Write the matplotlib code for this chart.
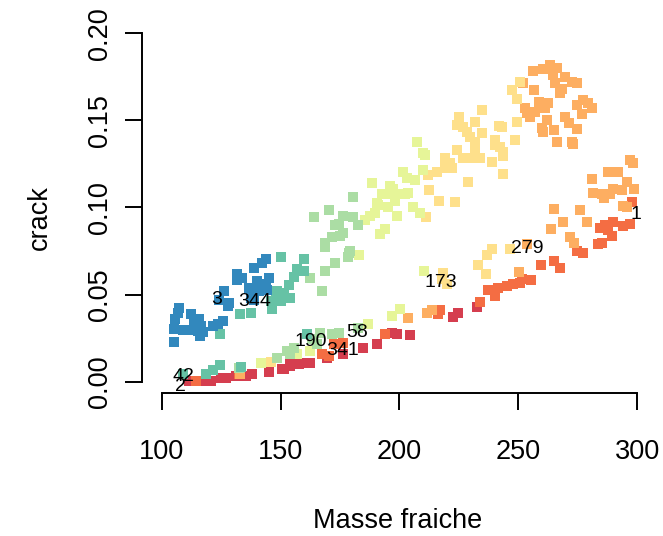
import matplotlib
matplotlib.use("Agg")
import matplotlib.pyplot as plt

plt.rcParams['font.family'] = ['Liberation Sans', 'DejaVu Sans']

# Spectral colours, one per class
colors = ["#3288BD", "#66C2A5", "#ABDDA4", "#E6F598",
          "#FEE08B", "#FDAE61", "#F46D43", "#D53E4F"]

masse_c1 = [144.1, 142.4, 138.7, 131.9, 134.0, 131.9, 145.0, 140.3, 143.7, 136.6,
            140.8, 144.5, 137.4, 126.1, 128.2, 127.7, 107.1, 106.7, 105.5, 105.0,
            112.2, 115.5, 113.4, 116.4, 125.6, 123.5, 121.8, 108.8, 112.2, 115.1,
            117.2, 116.0, 105.0, 139.0, 124.0]
crack_c1 = [0.0707, 0.0684, 0.0655, 0.0621, 0.0598, 0.0586, 0.0598, 0.0580, 0.0563, 0.0540,
            0.0523, 0.0529, 0.0483, 0.0523, 0.0454, 0.0437, 0.0425, 0.0397, 0.0362, 0.0305,
            0.0391, 0.0362, 0.0339, 0.0322, 0.0351, 0.0333, 0.0322, 0.0299, 0.0299, 0.0293,
            0.0287, 0.0264, 0.0230, 0.0470, 0.0470]

masse_c2 = [150.0, 159.7, 157.1, 159.7, 155.5, 153.4, 148.7, 151.3, 147.9, 150.0,
            146.6, 146.6, 154.2, 132.8, 137.4, 124.4, 145.8,
            133.2, 124.4, 121.4, 118.5, 108.8, 161.3]
crack_c2 = [0.0718, 0.0707, 0.0649, 0.0638, 0.0603, 0.0557, 0.0523, 0.0511, 0.0483, 0.0466,
            0.0437, 0.0420, 0.0483, 0.0391, 0.0397, 0.0276, 0.0466,
            0.0086, 0.0098, 0.0069, 0.0046, 0.0046, 0.0276]

masse_c3 = [180.3, 170.6, 163.9, 176.1, 174.4, 173.1, 176.5, 175.2, 171.8, 168.9,
            168.9, 180.7, 182.4, 179.4, 178.2, 173.1, 168.9, 162.6, 167.6, 179.0,
            152.9, 154.2, 155.5, 148.7, 166.8, 171.8, 174.4, 163.4, 165.5, 182.4, 132.4]
crack_c3 = [0.1063, 0.0983, 0.0943, 0.0954, 0.0908, 0.0897, 0.0856, 0.0839, 0.0828, 0.0799,
            0.0776, 0.0943, 0.0897, 0.0753, 0.0713, 0.0684, 0.0638, 0.0598, 0.0523, 0.0741,
            0.0178, 0.0161, 0.0195, 0.0138, 0.0282, 0.0276, 0.0282, 0.0247, 0.0218, 0.0310, 0.0080]

masse_c4 = [207.6, 210.1, 210.9, 201.7, 203.4, 206.7, 202.5, 203.8, 205.9, 208.8,
            210.1, 188.7, 196.2, 197.5, 192.9, 196.2, 198.3, 200.4, 190.8, 189.9,
            187.8, 185.7, 195.4, 199.2, 194.1, 192.0, 183.2, 191.2,
            210.5, 197.1, 200.4, 187.0, 157.1, 141.6, 162.6]
crack_c4 = [0.1374, 0.1310, 0.1299, 0.1201, 0.1172, 0.1155, 0.1080, 0.1086, 0.1000, 0.0966,
            0.1213, 0.1138, 0.1126, 0.1109, 0.1080, 0.1080, 0.1040, 0.1080, 0.1023, 0.0971,
            0.0954, 0.0931, 0.1000, 0.0954, 0.0879, 0.0845, 0.0730, 0.1017,
            0.0638, 0.0379, 0.0420, 0.0333, 0.0161, 0.0109, 0.0178]

masse_c5 = [225.2, 224.4, 226.9, 228.6, 229.8, 231.9, 234.9, 231.9, 234.9, 242.0,
            240.3, 240.3, 242.4, 243.7, 248.7, 249.6, 247.5, 249.6, 250.8, 224.4,
            226.9, 230.7, 234.0, 231.9, 239.1, 219.3, 219.3, 221.4, 222.3, 220.2,
            216.0, 212.2, 229.0, 243.7, 212.6, 216.8, 223.5, 211.3, 243.3, 243.7,
            239.1, 237.0, 246.6, 233.2, 236.6, 218.5, 218.1, 220.2, 145.8]
crack_c5 = [0.1517, 0.1471, 0.1460, 0.1431, 0.1402, 0.1374, 0.1557, 0.1489, 0.1425, 0.1466,
            0.1385, 0.1356, 0.1345, 0.1293, 0.1385, 0.1489, 0.1672, 0.1621, 0.1718, 0.1328,
            0.1287, 0.1282, 0.1287, 0.1328, 0.1259, 0.1282, 0.1253, 0.1253, 0.1224, 0.1224,
            0.1201, 0.1184, 0.1144, 0.1190, 0.1098, 0.1040, 0.1029, 0.0943, 0.1460, 0.1316,
            0.0759, 0.0730, 0.0764, 0.0667, 0.0621, 0.0626, 0.0592, 0.0563, 0.0115]

masse_c6 = [256.3, 260.5, 263.4, 266.4, 264.7, 269.7, 272.7, 274.8, 265.5, 268.5,
            267.6, 252.1, 256.7, 258.8, 262.6, 261.3, 252.9, 257.1, 255.0, 274.8,
            277.3, 279.4, 281.1, 276.9, 262.2, 269.7, 271.4, 260.1, 260.5, 265.1,
            274.8, 266.4, 272.7, 273.1, 253.8,
            297.1, 298.3, 287.8, 292.0, 281.1, 295.8, 298.7, 281.5, 285.3, 288.7,
            289.9, 293.7, 286.1, 294.1, 295.8, 265.1, 268.9, 263.9, 271.8, 273.5,
            276.1, 279.0, 253.8, 250.4, 203.8, 211.8, 213.9, 132.8]
crack_c6 = [0.1782, 0.1793, 0.1816, 0.1799, 0.1759, 0.1747, 0.1718, 0.1713, 0.1713, 0.1678,
            0.1655, 0.1713, 0.1672, 0.1603, 0.1598, 0.1569, 0.1569, 0.1546, 0.1517, 0.1586,
            0.1615, 0.1598, 0.1569, 0.1534, 0.1500, 0.1517, 0.1483, 0.1454, 0.1431, 0.1443,
            0.1448, 0.1374, 0.1374, 0.1362, 0.1540,
            0.1270, 0.1253, 0.1201, 0.1201, 0.1161, 0.1149, 0.1109, 0.1086, 0.1080, 0.1080,
            0.1109, 0.1098, 0.1052, 0.1011, 0.1000, 0.0989, 0.0914, 0.0874, 0.0828, 0.0799,
            0.0983, 0.0914, 0.0793, 0.0632, 0.0368, 0.0397, 0.0414, 0.0046]

masse_c7 = [284.5, 286.6, 287.8, 289.9, 289.5, 285.3, 283.6, 294.1, 297.1, 297.9,
            274.8, 277.3, 265.1, 267.6, 259.7, 255.5, 251.7, 250.8, 247.9, 245.4,
            241.6, 240.3, 237.4, 234.0, 217.2, 216.4, 194.1, 176.5, 172.3, 167.6,
            170.2, 132.4, 114.3]
crack_c7 = [0.0885, 0.0897, 0.0868, 0.0914, 0.0839, 0.0799, 0.0793, 0.0891, 0.0908, 0.1029,
            0.0753, 0.0736, 0.0695, 0.0655, 0.0672, 0.0586, 0.0592, 0.0569, 0.0563, 0.0552,
            0.0540, 0.0494, 0.0529, 0.0460, 0.0414, 0.0391, 0.0276, 0.0224, 0.0218, 0.0161,
            0.0149, 0.0046, 0.0006]

masse_c8 = [232.8, 224.8, 222.7, 204.6, 199.2, 190.8, 184.5, 176.5, 169.7, 162.6,
            159.2, 157.6, 154.2, 151.3, 154.2, 150.8, 145.0, 138.2, 135.3, 131.1,
            126.9, 124.8, 120.6, 117.2, 111.3, 197.1]
crack_c8 = [0.0431, 0.0397, 0.0374, 0.0270, 0.0276, 0.0218, 0.0195, 0.0161, 0.0138, 0.0109,
            0.0109, 0.0103, 0.0103, 0.0075, 0.0092, 0.0075, 0.0057, 0.0046, 0.0034, 0.0034,
            0.0023, 0.0023, 0.0006, 0.0006, 0.0006, 0.0282]

# identified observations
id_labels = ["3", "344", "42", "2", "190", "341", "58", "173", "279", "1"]
id_masse = [123.3, 139.3, 109.0, 108.0, 162.6, 176.2, 182.2, 217.4, 253.8, 299.6]
id_crack = [0.0473, 0.0463, 0.0029, -0.0027, 0.0229, 0.0181, 0.0281, 0.0569, 0.0764, 0.0957]

x_ticks = [100, 150, 200, 250, 300]
y_ticks = [0.00, 0.05, 0.10, 0.15, 0.20]
y_tick_labels = ["0.00", "0.05", "0.10", "0.15", "0.20"]

fig = plt.figure(figsize=(6.63, 5.36), dpi=100)
ax = fig.add_axes([141.7 / 663, 143 / 536, 515.3 / 663, 374.5 / 536])

groups = [(masse_c8, crack_c8), (masse_c7, crack_c7), (masse_c6, crack_c6),
          (masse_c5, crack_c5), (masse_c4, crack_c4), (masse_c3, crack_c3),
          (masse_c2, crack_c2), (masse_c1, crack_c1)]
group_colors = colors[::-1]
for (mx, cy), col in zip(groups, group_colors):
    ax.scatter(mx, cy, marker="s", s=50, color=col, linewidths=0, zorder=2)

for lab, mx, cy in zip(id_labels, id_masse, id_crack):
    ax.text(mx, cy, lab, ha="center", va="center", fontsize=14, color="black", zorder=3)

ax.set_xlim(91.6, 308.4)
ax.set_ylim(-0.0065, 0.2085)

for side in ("top", "right"):
    ax.spines[side].set_visible(False)
ax.spines["left"].set_bounds(0.0, 0.2)
ax.spines["bottom"].set_bounds(100, 300)
for side in ("left", "bottom"):
    ax.spines[side].set_linewidth(1.4)

ax.set_xticks(x_ticks)
ax.set_xticklabels([str(v) for v in x_ticks])
ax.set_yticks(y_ticks)
ax.set_yticklabels(y_tick_labels)
ax.tick_params(axis="both", direction="out", length=12, width=1.4, labelsize=19.5)
ax.tick_params(axis="x", pad=21)
ax.tick_params(axis="y", pad=9)
for t in ax.get_yticklabels():
    t.set_rotation(90)
    t.set_verticalalignment("center")
    t.set_horizontalalignment("right")

fig.text(398 / 663, 1 - 528 / 536, "Masse fraiche", ha="center", va="baseline",
         fontsize=19.5, rotation_mode="anchor")
fig.text(47 / 663, 1 - 218 / 536, "crack", ha="center", va="baseline",
         fontsize=19.5, rotation=90, rotation_mode="anchor")

fig.savefig("out.png", dpi=100, facecolor="white")
